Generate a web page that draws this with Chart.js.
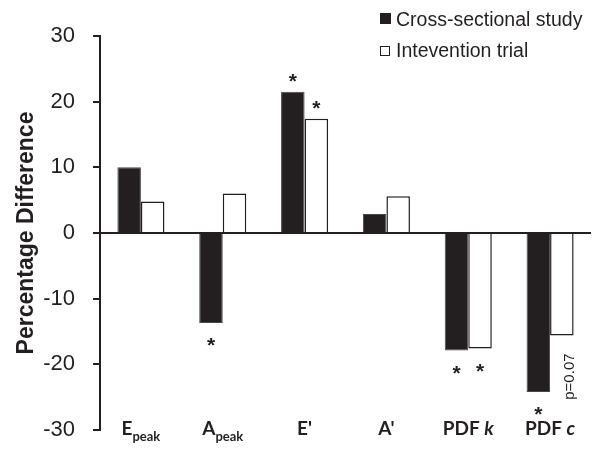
<!DOCTYPE html>
<html>
<head>
<meta charset="utf-8">
<script src="https://cdn.jsdelivr.net/npm/chart.js@4.4.1/dist/chart.umd.min.js"></script>
<style>
  html, body { margin: 0; padding: 0; background: #fff; }
</style>
</head>
<body>
<canvas id="barChart" width="593" height="451"></canvas>
<script>
const categories = ['Epeak', 'Apeak', "E'", "A'", 'PDF k', 'PDF c']
const labelBase = ['E', 'A', "E'", "A'", 'PDF ', 'PDF ']
const labelSub = ['peak', 'peak', '', '', '', '']
const labelItalic = ['', '', '', '', 'k', 'c']

const crossSectional = [10.0, -13.7, 21.5, 2.9, -17.9, -24.2]
const intervention = [4.8, 6.0, 17.4, 5.6, -17.6, -15.6]

const crossSig = [false, true, true, false, true, true]
const interventionSig = [false, false, true, false, true, false]
const interventionNote = ['', '', '', '', '', 'p=0.07']

const yTicks = [-30, -20, -10, 0, 10, 20, 30]

const seriesNames = ['Cross-sectional study', 'Intevention trial']
const INK = '#231f20'

const annotate = {
    id: 'annotate',
    afterDatasetsDraw(chart) {
        const ctx = chart.ctx
        const flags = [crossSig, interventionSig]
        ctx.save()
        ctx.fillStyle = INK
        ctx.textAlign = 'center'
        ctx.textBaseline = 'alphabetic'
        ctx.font = 'bold 21px "Liberation Sans"'
        flags.forEach((sig, d) => {
            chart.getDatasetMeta(d).data.forEach((bar, i) => {
                if (!sig[i]) return
                const up = bar.y < bar.base
                const cy = up ? bar.y - 16 : bar.y + 17
                ctx.fillText('*', bar.x, cy + 12)
            })
        })
        // p-value note, rotated
        chart.getDatasetMeta(1).data.forEach((bar, i) => {
            if (!interventionNote[i]) return
            ctx.save()
            ctx.translate(bar.x + 8, bar.y + 18)
            ctx.rotate(-Math.PI / 2)
            ctx.textAlign = 'right'
            ctx.textBaseline = 'middle'
            ctx.font = '15px "Liberation Sans"'
            ctx.fillText(interventionNote[i], 0, 0)
            ctx.restore()
        })
        ctx.restore()
    },
    afterDraw(chart) {
        const ctx = chart.ctx
        const xScale = chart.scales.x
        ctx.save()
        ctx.fillStyle = INK
        ctx.textBaseline = 'alphabetic'
        categories.forEach((c, i) => {
            const x = xScale.getPixelForValue(i)
            const fBase = 'bold 19px Lato'
            const fSub = 'bold 13px Lato'
            const fIt = 'italic bold 19px Lato'
            ctx.font = fBase
            const wB = ctx.measureText(labelBase[i]).width
            ctx.font = fSub
            const wS = ctx.measureText(labelSub[i]).width
            ctx.font = fIt
            const wI = ctx.measureText(labelItalic[i]).width
            let left = x - (wB + wS + wI) / 2
            ctx.textAlign = 'left'
            ctx.font = fBase
            ctx.fillText(labelBase[i], left, 435)
            left += wB
            if (labelSub[i]) {
                ctx.font = fSub
                ctx.fillText(labelSub[i], left, 441)
                left += wS
            }
            if (labelItalic[i]) {
                ctx.font = fIt
                ctx.fillText(labelItalic[i], left, 435)
            }
        })

        // legend
        ctx.font = '19.5px "Liberation Sans"'
        ctx.fillStyle = INK
        ctx.fillRect(380, 13, 11, 11)
        ctx.fillText(seriesNames[0], 396, 26)
        ctx.strokeStyle = INK
        ctx.lineWidth = 1
        ctx.strokeRect(380.5, 46.5, 9, 9)
        ctx.fillText(seriesNames[1], 396, 57)
        ctx.restore()
    }
}

function buildChart() {
    const CHART = document.getElementById('barChart')
    new Chart(CHART, {
        type: 'bar',
        data: {
            labels: categories,
            datasets: [
                {
                    label: seriesNames[0],
                    data: crossSectional,
                    backgroundColor: INK,
                    borderColor: '#4a4647',
                    borderWidth: 1,
                    categoryPercentage: 0.575,
                    barPercentage: 1
                },
                {
                    label: seriesNames[1],
                    data: intervention,
                    backgroundColor: '#ffffff',
                    borderColor: INK,
                    borderWidth: 1.5,
                    categoryPercentage: 0.575,
                    barPercentage: 1
                }
            ]
        },
        options: {
            responsive: false,
            animation: false,
            devicePixelRatio: 1,
            layout: { padding: { top: 36, bottom: 21, right: 2, left: 0 } },
            plugins: {
                legend: { display: false },
                tooltip: { enabled: false }
            },
            scales: {
                x: { display: false },
                y: {
                    min: -30,
                    max: 30,
                    z: 1,
                    afterBuildTicks: (scale) => {
                        scale.ticks = yTicks.map(v => ({ value: v }))
                    },
                    afterFit: (scale) => {
                        scale.width = 100
                        scale.paddingTop = 0
                        scale.paddingBottom = 0
                    },
                    border: { display: true, color: INK, width: 2 },
                    grid: {
                        color: (c) => (c.tick && c.tick.value === 0) ? INK : 'rgba(0,0,0,0)',
                        tickColor: INK,
                        tickLength: 7,
                        lineWidth: 2
                    },
                    ticks: {
                        color: INK,
                        padding: 18,
                        font: { family: '"Liberation Sans"', size: 22 }
                    },
                    title: {
                        display: true,
                        text: 'Percentage Difference',
                        color: INK,
                        font: { family: '"Liberation Sans"', size: 23, weight: 'bold' },
                        padding: { top: 13, bottom: 0 }
                    }
                }
            }
        },
        plugins: [annotate]
    })
}

window.addEventListener('load', () => {
    try {
        buildChart()
    } catch (e) {
        console.error(e)
    }
})
</script>
</body>
</html>
